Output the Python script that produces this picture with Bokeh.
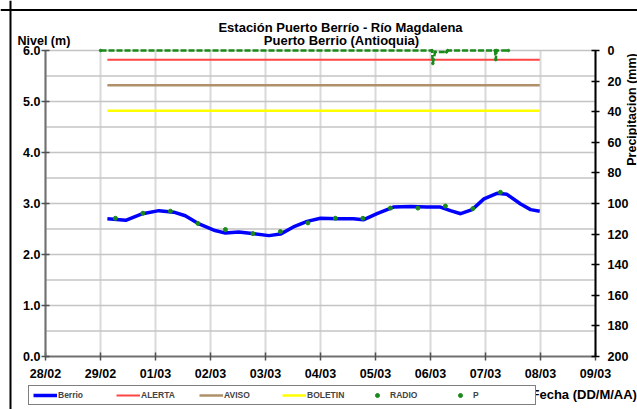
import numpy as np
import pandas as pd
from bokeh.plotting import figure
from bokeh.models import (Range1d, LinearAxis, FixedTicker, DatetimeTickFormatter,
                          Label, Legend, LegendItem, NumeralTickFormatter, Span)
from bokeh.embed import file_html
from bokeh.resources import INLINE

# ---------------- data ----------------
berrio_time = ["2024-02-29 03:00", "2024-02-29 11:00", "2024-02-29 18:20", "2024-03-01 01:30",
               "2024-03-01 08:00", "2024-03-01 13:00", "2024-03-01 19:00", "2024-03-02 02:00",
               "2024-03-02 06:30", "2024-03-02 12:20", "2024-03-02 18:10", "2024-03-03 01:30",
               "2024-03-03 06:30", "2024-03-03 12:10", "2024-03-03 18:10", "2024-03-04 00:00",
               "2024-03-04 07:20", "2024-03-04 14:20", "2024-03-04 18:40", "2024-03-05 00:40",
               "2024-03-05 07:50", "2024-03-05 15:20", "2024-03-05 22:30", "2024-03-06 04:20",
               "2024-03-06 08:40", "2024-03-06 13:10", "2024-03-06 18:10", "2024-03-06 23:20",
               "2024-03-07 05:00", "2024-03-07 09:20", "2024-03-07 15:20", "2024-03-07 19:40",
               "2024-03-07 23:40"]
berrio_level = [2.70, 2.67, 2.80, 2.86, 2.83, 2.76, 2.60, 2.47, 2.42, 2.44, 2.41, 2.37,
                2.40, 2.54, 2.65, 2.71, 2.70, 2.70, 2.68, 2.80, 2.93, 2.94, 2.93, 2.93,
                2.86, 2.80, 2.88, 3.09, 3.20, 3.18, 2.99, 2.88, 2.85]

radio_time = ["2024-02-29 06:30", "2024-02-29 18:30", "2024-03-01 06:30", "2024-03-01 18:30",
              "2024-03-02 06:30", "2024-03-02 18:30", "2024-03-03 06:30", "2024-03-03 18:30",
              "2024-03-04 06:30", "2024-03-04 18:30", "2024-03-05 06:30", "2024-03-05 18:30",
              "2024-03-06 06:30", "2024-03-06 18:30", "2024-03-07 06:30"]
radio_level = [2.71, 2.81, 2.85, 2.61, 2.49, 2.41, 2.45, 2.62, 2.71, 2.71, 2.91, 2.91,
               2.95, 2.90, 3.22]

p_time = ["2024-02-29 00:00", "2024-03-06 00:40", "2024-03-06 01:00", "2024-03-06 02:00",
          "2024-03-06 07:00", "2024-03-06 07:30", "2024-03-07 04:10", "2024-03-07 04:30",
          "2024-03-07 04:50", "2024-03-07 10:00"]
p_mm = [0, 0, 8.5, 1, 1, 0, 0, 6, 0, 0]

threshold_time = ["2024-02-29 03:00", "2024-03-07 23:40"]
alerta_level = [5.82, 5.82]
aviso_level = [5.32, 5.32]
boletin_level = [4.82, 4.82]

day_ticks = ["2024-02-28", "2024-02-29", "2024-03-01", "2024-03-02", "2024-03-03", "2024-03-04",
             "2024-03-05", "2024-03-06", "2024-03-07", "2024-03-08", "2024-03-09"]
level_ticks = [0, 1, 2, 3, 4, 5, 6]
level_grid = [0.5, 1.0, 1.5, 2.0, 2.5, 3.0, 3.5, 4.0, 4.5, 5.0, 5.5, 6.0]
precip_ticks = [0, 20, 40, 60, 80, 100, 120, 140, 160, 180, 200]

title_main = "Estación Puerto Berrío - Río Magdalena"
title_sub = "Puerto Berrio (Antioquia)"
y_label = "Nivel (m)"
x_label = "Fecha (DD/M/AA)"
y2_label = "Precipitacion (mm)"

FONT = "Liberation Sans"
W, H = 637, 409
# plot-area edges in page pixels
PL, PR, PT, PB = 45, 595, 50, 356

bt = pd.to_datetime(berrio_time)
rt = pd.to_datetime(radio_time)
pt = pd.to_datetime(p_time)
tt = pd.to_datetime(threshold_time)
dt = pd.to_datetime(day_ticks)
ms = lambda t: t.timestamp() * 1000.0
tick_ms = [ms(t) for t in dt]
x0, x1 = tick_ms[0], tick_ms[-1]
px_per_ms = (PR - PL) / (x1 - x0)
y_lo, y_hi = level_ticks[0], level_ticks[-1]
px_per_lvl = (PB - PT) / (y_hi - y_lo)
px_per_mm = (PB - PT) / (precip_ticks[-1] - precip_ticks[0])

# the frame covers the whole canvas; axes are pinned at the plot-area edges
p = figure(width=W, height=H, x_axis_type="datetime",
           x_range=Range1d(x0 - PL / px_per_ms, x1 + (W - PR) / px_per_ms),
           y_range=Range1d(y_lo - (H - PB) / px_per_lvl, y_hi + PT / px_per_lvl),
           output_backend="svg", toolbar_location=None, min_border=0,
           background_fill_color="white", border_fill_color="white")
p.outline_line_color = None
p.title = None
p.extra_y_ranges = {"precip": Range1d(precip_ticks[-1] + (H - PB) / px_per_mm,
                                      precip_ticks[0] - PT / px_per_mm)}
p.xgrid.visible = False
p.ygrid.visible = False

# grid lines (drawn first, under the data)
p.segment(x0=dt, y0=y_lo, x1=dt, y1=y_hi, line_color="#d9d9d9", line_width=2)
p.segment(x0=dt[0], y0=level_grid, x1=dt[-1], y1=level_grid, line_color="#c4c4c4",
          line_width=1.5)

# axes
xa = p.xaxis[0]
xa.ticker = FixedTicker(ticks=tick_ms)
xa.formatter = DatetimeTickFormatter(days="%d/%m", months="%d/%m", hours="%d/%m",
                                     years="%d/%m")
xa.fixed_location = y_lo
xa.bounds = (x0, x1)
ya = p.yaxis[0]
ya.ticker = FixedTicker(ticks=level_ticks)
ya.formatter = NumeralTickFormatter(format="0.0")
ya.fixed_location = x0
ya.bounds = (y_lo, y_hi)

for ax in (xa, ya):
    ax.axis_line_color = "#707070"
    ax.axis_line_width = 2
    ax.major_tick_line_color = "#505050"
    ax.major_tick_line_width = 1.5
    ax.major_tick_in = 4
    ax.major_tick_out = 4
    ax.minor_tick_line_color = None
    ax.major_label_text_font = FONT
    ax.major_label_text_font_style = "bold"
    ax.major_label_text_font_size = "12.5px"
    ax.major_label_text_color = "black"
xa.major_label_standoff = 6
ya.major_label_standoff = 1

ry = LinearAxis(y_range_name="precip", ticker=FixedTicker(ticks=precip_ticks))
ry.fixed_location = x1
ry.bounds = (precip_ticks[0], precip_ticks[-1])
ry.axis_line_color = "black"
ry.axis_line_width = 2
ry.major_tick_line_color = "black"
ry.major_tick_line_width = 1.5
ry.major_tick_in = 4
ry.major_tick_out = 4
ry.minor_tick_line_color = None
ry.major_label_text_font = FONT
ry.major_label_text_font_style = "bold"
ry.major_label_text_font_size = "12.5px"
ry.major_label_text_color = "black"
ry.major_label_standoff = 8
p.add_layout(ry, "right")

# series
r_alerta = p.line(tt, alerta_level, line_color="#ff4444", line_width=2)
r_aviso = p.line(tt, aviso_level, line_color="#b0906a", line_width=2.5)
r_boletin = p.line(tt, boletin_level, line_color="#ffff00", line_width=2.5)
r_p_line = p.line(pt, p_mm, y_range_name="precip", line_color="#1a8a1a", line_width=2.5,
                  line_dash="6 2")
r_p = p.scatter(pt, p_mm, y_range_name="precip", size=2.5, color="#1a8a1a")
r_berrio = p.line(bt, berrio_level, line_color="#0000ff", line_width=3.5)
r_radio = p.scatter(rt, radio_level, size=4, color="#1a8a1a")

# chart border (top and left edges, like the original picture)
p.add_layout(Span(location=H - 9.5, location_units="screen", dimension="width",
                  line_color="black", line_width=2))
p.add_layout(Span(location=10, location_units="screen", dimension="height",
                  line_color="black", line_width=2))

# texts (screen units: x from left, y from bottom)
def lab(text, X, Y, align="left", size="12.5px", angle=0, baseline="alphabetic"):
    p.add_layout(Label(x=X, y=H - Y, x_units="screen", y_units="screen", text=text,
                       text_font=FONT, text_font_style="bold", text_font_size=size,
                       text_align=align, text_baseline=baseline, angle=angle,
                       text_color="black"))

lab(title_main, 340, 26.5, align="center", size="13px")
lab(title_sub, 341, 40, align="center", size="13px")
lab(y_label, 17, 40)
lab(x_label, 531, 394, size="13px")
lab(y2_label, 631, 109, align="center", angle=np.pi / 2, baseline="middle")

legend = Legend(items=[
    LegendItem(label="Berrio", renderers=[r_berrio]),
    LegendItem(label="ALERTA", renderers=[r_alerta]),
    LegendItem(label="AVISO", renderers=[r_aviso]),
    LegendItem(label="BOLETIN", renderers=[r_boletin]),
    LegendItem(label="RADIO", renderers=[r_radio]),
    LegendItem(label="P", renderers=[r_p]),
], orientation="horizontal", location=(28, H - 405),
    label_text_font=FONT, label_text_font_style="bold", label_text_font_size="8.5px",
    glyph_width=24, glyph_height=10, label_height=10, label_width=58, label_standoff=1,
    spacing=0, padding=4, margin=0, border_line_color="black", border_line_width=1,
    background_fill_color="white", background_fill_alpha=1)
p.add_layout(legend)

open("out.html", "w").write(file_html(p, INLINE))
